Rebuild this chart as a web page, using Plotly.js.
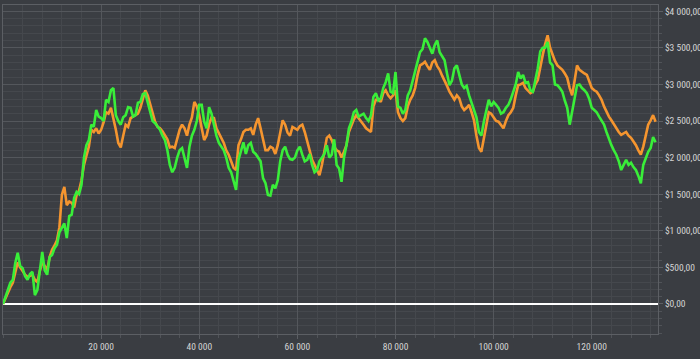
<!DOCTYPE html>
<html>
<head>
<meta charset="utf-8">
<script src="https://cdn.plot.ly/plotly-3.0.1.min.js"></script>
<style>
html,body{margin:0;padding:0;background:#3a3d42;}
#chart{width:700px;height:359px;}
</style>
</head>
<body>
<div id="chart"></div>
<script>
// samples every 500 trades
var stepX = 500;
var greenValues = [0,100,190,290,330,560,700,520,490,380,330,410,440,120,190,480,710,460,400,640,
670,760,810,980,1040,1100,900,1200,1220,1450,1530,1500,1630,2000,2170,2240,2450,2420,2650,2560,
2540,2500,2790,2760,2920,2950,2580,2500,2450,2550,2580,2690,2680,2560,2580,2750,2760,2870,2880,2750,
2650,2500,2470,2420,2380,2300,2240,2100,1900,1800,1860,2000,2100,2130,1970,1860,2150,2300,2380,2500,
2720,2720,2490,2400,2690,2600,2450,2300,2200,2150,2100,2000,1860,1800,1670,1560,1970,2100,2210,2050,
2170,2200,2080,2050,2000,1950,1720,1650,1490,1480,1630,1580,1690,1950,2100,2150,2040,1980,1970,2000,
2100,2150,2040,1950,1970,2050,1900,1800,1830,1950,2000,2050,2170,2000,2040,2250,1900,1850,1670,2000,
2170,2400,2490,2620,2650,2560,2580,2600,2540,2500,2580,2830,2880,2780,2810,2950,3030,3150,2900,2880,
3170,2700,2680,2600,2650,2850,2920,3050,3170,3300,3440,3480,3630,3580,3500,3420,3540,3600,3440,3380,
3330,3150,2990,3050,3220,3260,3130,3000,2950,2980,2850,2750,2650,2550,2350,2300,2490,2650,2790,2700,
2760,2720,2680,2600,2620,2680,2720,2800,2900,3000,3170,3080,3130,3020,3030,2920,2900,3050,3220,3450,
3500,3500,3580,3300,3260,3000,2990,2950,2900,2780,2680,2450,2650,2850,2990,3000,2950,2920,2880,2800,
2680,2650,2620,2560,2510,2450,2350,2250,2170,2100,2040,1950,1830,1900,1970,1900,1930,1870,1830,1750,
1650,1900,2000,2080,2130,2280,2210];
var orangeValues = [0,80,150,230,290,420,570,500,440,400,370,380,400,330,300,450,570,520,460,640,
740,800,870,1050,1490,1600,1350,1400,1380,1320,1490,1550,1690,1900,2040,2150,2380,2350,2400,2330,
2380,2480,2620,2600,2680,2550,2380,2200,2140,2300,2450,2420,2540,2560,2580,2600,2680,2800,2920,2850,
2720,2600,2490,2420,2400,2360,2310,2250,2140,2150,2130,2250,2380,2450,2400,2300,2450,2550,2760,2700,
2580,2400,2240,2300,2450,2550,2540,2400,2340,2280,2200,2100,2040,1950,1860,1830,2170,2250,2350,2380,
2380,2400,2310,2450,2540,2400,2240,2100,2100,2150,2130,2050,2170,2350,2510,2450,2340,2300,2420,2400,
2380,2430,2450,2350,2240,2100,1970,1900,1830,1760,1900,2100,2270,2300,2240,2150,2100,2080,2000,2080,
2170,2350,2450,2520,2580,2540,2490,2450,2400,2380,2350,2700,2790,2800,2760,2880,2920,2850,2810,2850,
2920,2620,2540,2500,2540,2700,2790,2850,2950,3130,3260,3280,3310,3250,3200,3300,3330,3250,3200,3120,
3060,2980,2900,2850,2790,2850,2810,2700,2650,2680,2720,2620,2510,2300,2130,2080,2270,2450,2620,2600,
2540,2500,2490,2450,2400,2500,2580,2620,2680,2850,2990,3000,3020,2950,2920,2880,2900,3000,3060,3250,
3400,3550,3670,3500,3400,3320,3260,3230,3200,3150,3090,2950,2850,3050,3260,3200,3170,3150,3130,3050,
2950,2920,2900,2850,2790,2700,2620,2560,2510,2450,2400,2350,2310,2330,2350,2300,2270,2220,2170,2100,
2040,2150,2310,2450,2510,2580,2490];
var xTickValues = [20000,40000,60000,80000,100000,120000];

function xsFor(arr){ return arr.map(function(_, i){ return i * stepX; }); }

var data = [
  {x: xsFor(orangeValues), y: orangeValues, type: 'scatter', mode: 'lines', line: {color: '#f5952f', width: 2.6}, hoverinfo: 'skip'},
  {x: xsFor(greenValues), y: greenValues, type: 'scatter', mode: 'lines', line: {color: '#39ee39', width: 2.6}, hoverinfo: 'skip'}
];

var layout = {
  width: 700, height: 359,
  margin: {l: 3, r: 42, t: 5, b: 25},
  paper_bgcolor: '#3a3d42',
  plot_bgcolor: '#3b3e43',
  showlegend: false,
  separators: ', ',
  font: {family: 'Roboto Condensed, Liberation Sans, sans-serif', size: 9.5, color: '#d4d4d4'},
  xaxis: {
    range: [0, 133500],
    tickvals: xTickValues,
    tickformat: ',d',
    showgrid: true, gridcolor: '#54575c', gridwidth: 1,
    zeroline: false,
    showline: true, linecolor: '#5c5f64', linewidth: 1, mirror: true,
    ticks: 'outside', ticklen: 4, tickcolor: '#5c5f64',
    minor: {dtick: 4000, tick0: 0, showgrid: true, gridcolor: '#45484d', ticks: 'outside', ticklen: 3, tickcolor: '#505358'}
  },
  yaxis: {
    side: 'right',
    range: [-410, 4085],
    dtick: 500, tick0: 0,
    tickformat: '$,.2f',
    showgrid: true, gridcolor: '#54575c', gridwidth: 1,
    zeroline: true, zerolinecolor: '#ffffff', zerolinewidth: 2,
    showline: true, linecolor: '#5c5f64', linewidth: 1, mirror: true,
    ticks: 'outside', ticklen: 4, tickcolor: '#5c5f64',
    minor: {dtick: 100, showgrid: true, gridcolor: '#45484d', ticks: 'outside', ticklen: 3, tickcolor: '#505358'}
  }
};

Plotly.newPlot('chart', data, layout, {staticPlot: true, displayModeBar: false});
</script>
</body>
</html>
